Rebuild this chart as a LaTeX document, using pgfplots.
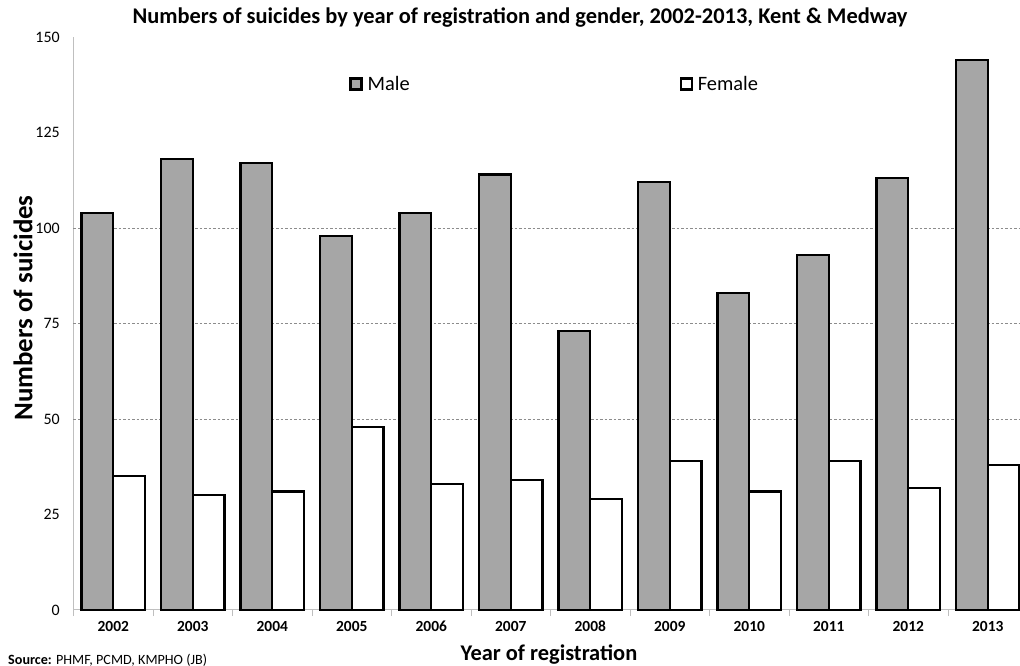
\documentclass[border=0pt]{standalone}
\usepackage{pgfplots}
\pgfplotsset{compat=1.18}
\usepackage{fontspec}
\setmainfont{Carlito}

\definecolor{malegray}{HTML}{A6A6A6}
\definecolor{axisgray}{HTML}{BFBFBF}
\definecolor{gridgray}{HTML}{8C8C8C}

\begin{document}
\begin{tikzpicture}
\useasboundingbox (0,0) rectangle (1020bp,666bp);

\begin{axis}[
  at={(73.5bp,56bp)}, anchor=south west,
  scale only axis,
  width=954bp, height=573bp,
  ybar=0pt, bar width=0.4,
  xmin=-0.5, xmax=11.5,
  ymin=0, ymax=150,
  axis x line*=bottom, axis y line*=left,
  axis line style={axisgray, line width=1bp, -},
  xtick={0,...,11},
  xticklabels={2002,2003,2004,2005,2006,2007,2008,2009,2010,2011,2012,2013},
  major x tick style={draw=none},
  minor xtick={-0.5,0.5,...,11.5},
  minor x tick style={axisgray, line width=1bp},
  minor tick length=6bp,
  tick align=outside,
  x tick label style={font=\fontsize{15.5}{17}\selectfont\bfseries, yshift=-3bp,
    text height=11bp, text depth=0bp},
  ytick={0,25,...,150},
  major y tick style={draw=none},
  y tick label style={font=\fontsize{16}{18}\selectfont, xshift=-6bp},
  /pgf/number format/assume math mode=true,
  extra y ticks={50,75,100},
  extra y tick labels={},
  extra y tick style={grid=major, major grid style={gridgray, line width=0.7bp, dash pattern=on 2.5bp off 2bp}},
  legend columns=2,
  legend style={at={(rel axis cs:0.289,0.918)}, anchor=west, draw=none, fill=none,
    inner sep=0pt, font=\fontsize{20.5}{23}\selectfont,
    /tikz/every even column/.append style={column sep=268bp}},
  legend cell align=left,
  legend image code/.code={%
    \draw[#1, line width=2.2bp] (0bp,-5.5bp) rectangle (11bp,5.5bp);
    \path (14bp,0bp);},
  clip=false,
]
% Male
\addplot[draw=black, fill=malegray, line width=2.2bp] coordinates {
  (0,104) (1,118) (2,117) (3,98) (4,104) (5,114)
  (6,73) (7,112) (8,83) (9,93) (10,113) (11,144)};
% Female
\addplot[draw=black, fill=white, line width=2.2bp] coordinates {
  (0,35) (1,30) (2,31) (3,48) (4,33) (5,34)
  (6,29) (7,39) (8,31) (9,39) (10,32) (11,38)};
\legend{Male, Female}
\end{axis}

\node[font=\fontsize{22.5}{25}\selectfont\bfseries] at (520bp,648bp)
  {Numbers of suicides by year of registration and gender, 2002-2013, Kent \& Medway};
\node[rotate=90, font=\fontsize{27}{29}\selectfont\bfseries] at (23bp,358bp) {Numbers of suicides};
\node[font=\fontsize{22.5}{25}\selectfont\bfseries] at (549bp,11bp) {Year of registration};
\node[anchor=west, inner sep=0pt, font=\fontsize{14.2}{16}\selectfont] at (8bp,6bp)
  {\textbf{Source:} PHMF, PCMD, KMPHO (JB)};
\end{tikzpicture}
\end{document}
